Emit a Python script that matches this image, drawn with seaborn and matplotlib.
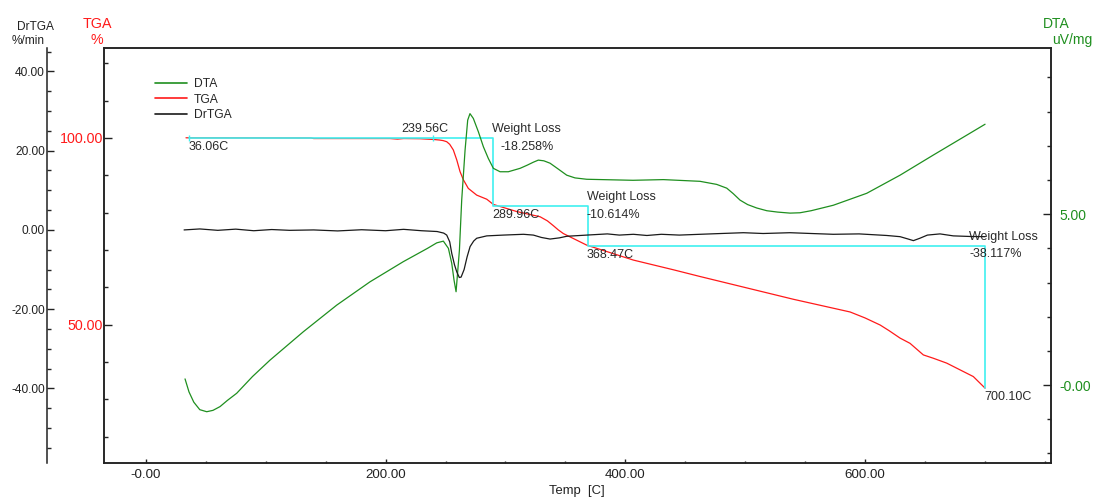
import numpy as np
import pandas as pd
import matplotlib
matplotlib.use("Agg")
import matplotlib.pyplot as plt
from matplotlib.ticker import FixedLocator, MultipleLocator, FixedFormatter
from matplotlib.lines import Line2D
import seaborn as sns

# DTA signal (uV/mg) vs temperature (C)
dta_temp = [32.7, 36.0, 40.0, 45.0, 50.8, 56.0, 61.9, 68.0, 75.8, 89.0,
            103.6, 131.4, 159.3, 187.0, 214.8, 235.0, 242.7, 248.2, 252.4, 255.2,
            257.1, 258.8, 261.6, 263.5, 266.3, 268.5, 270.4, 273.2, 277.4, 281.6,
            285.7, 289.9, 295.5, 302.4, 312.2, 318.0, 323.3, 327.4, 332.0, 337.2,
            344.0, 351.1, 358.0, 367.8, 406.4, 431.7, 462.3, 476.2, 484.6, 490.0,
            495.7, 502.0, 509.6, 518.0, 527.0, 537.4, 545.7, 555.0, 573.5, 601.4,
            629.2, 657.0, 684.8, 700.1]
dta_val = [0.18, -0.20, -0.50, -0.72, -0.78, -0.74, -0.63, -0.45, -0.24, 0.25,
           0.73, 1.56, 2.34, 3.02, 3.61, 4.00, 4.16, 4.21, 4.00, 3.56,
           3.07, 2.73, 3.95, 5.41, 6.87, 7.75, 7.94, 7.80, 7.41, 6.97,
           6.63, 6.34, 6.24, 6.24, 6.34, 6.43, 6.52, 6.58, 6.56, 6.49,
           6.32, 6.14, 6.06, 6.02, 5.99, 6.01, 5.96, 5.87, 5.76, 5.60,
           5.41, 5.28, 5.18, 5.10, 5.06, 5.03, 5.04, 5.10, 5.26, 5.61,
           6.14, 6.73, 7.31, 7.63]

# TGA mass (%) vs temperature (C)
tga_temp = [33.5, 137.8, 140.0, 203.7, 210.0, 215.0, 228.7, 240.0, 245.0, 248.0,
            251.0, 253.5, 256.5, 259.4, 262.1, 264.9, 269.0, 276.0, 284.4, 289.9,
            309.4, 328.9, 335.0, 340.0, 344.0, 348.3, 367.8, 406.7, 440.1, 462.3,
            540.2, 587.5, 600.0, 612.6, 620.0, 629.2, 637.5, 648.6, 657.0, 668.1,
            679.2, 690.3, 700.1]
tga_val = [100.05, 100.0, 99.85, 99.85, 99.7, 99.85, 99.8, 99.6, 99.45, 99.3,
           99.0, 98.3, 96.8, 94.1, 91.0, 88.8, 86.5, 84.7, 83.6, 82.2,
           80.3, 78.9, 77.8, 76.5, 75.4, 74.4, 71.3, 67.3, 64.7, 62.9,
           56.8, 53.4, 51.8, 49.9, 48.4, 46.4, 45.0, 41.9, 41.0, 39.7,
           37.9, 36.1, 33.0]

# DrTGA (%/min) vs temperature (C)
drtga_temp = [31.9, 45, 60, 75, 90, 105, 120, 140, 160, 180,
              200, 215, 230, 243, 248.5, 251.0, 253.5, 255.2, 257.5, 259.4,
              261.5, 263.0, 265.5, 268.0, 270.5, 273.5, 276.0, 284.4, 298.2, 315,
              323.3, 330, 337.2, 345, 351.1, 367.8, 385, 395, 406.7, 418,
              430, 445, 462.3, 480, 498.5, 515, 537.4, 555, 573.5, 595,
              618.1, 629.2, 636, 640.3, 645.7, 652, 662.5, 673.6, 687.6, 700.1]
drtga_val = [0.0, 0.25, -0.1, 0.2, -0.2, 0.1, -0.1, 0.0, -0.25, 0.05,
             -0.2, 0.15, -0.2, -0.4, -0.8, -1.3, -3.0, -5.9, -8.8, -10.6,
             -12.0, -11.9, -10.0, -6.8, -4.2, -2.8, -2.1, -1.5, -1.3, -1.1,
             -1.3, -1.9, -2.3, -2.0, -1.6, -1.3, -1.0, -1.3, -1.1, -1.4,
             -1.1, -1.3, -1.1, -0.9, -0.7, -0.9, -0.7, -0.9, -1.1, -1.0,
             -1.4, -1.7, -2.3, -2.7, -2.1, -1.3, -1.0, -1.5, -1.65, -1.7]

# weight loss analysis
step_temps = [36.06, 289.96, 368.47, 700.10]
onset_temp = 239.56
weight_losses = [-18.258, -10.614, -38.117]
start_mass = 100.0

x_ticks = [0, 200, 400, 600]
x_tick_labels = ["-0.00", "200.00", "400.00", "600.00"]
tga_ticks = [50, 100]
tga_tick_labels = ["50.00", "100.00"]
dta_ticks = [0, 5]
dta_tick_labels = ["-0.00", "5.00"]
dr_ticks = [-40, -20, 0, 20, 40]
dr_tick_labels = ["-40.00", "-20.00", "0.00", "20.00", "40.00"]

GREEN = "#1f8f1f"
RED = "#ff1a1a"
DARK = "#1a1a1a"
CYAN = "#3ff0f0"
TXT = "#2a2a2a"

sns.set_style("white")
plt.rcParams["font.family"] = ["Liberation Sans", "DejaVu Sans"]

W, H = 1094, 497
fig = plt.figure(figsize=(W / 100, H / 100), dpi=100)
ax = fig.add_axes([104 / W, 1 - 463 / H, 947 / W, 415 / H])
ax_dta = ax.twinx()
ax_dr = ax.twinx()
ax_dr.set_position(ax.get_position())
ax_dta.set_position(ax.get_position())

df_tga = pd.DataFrame({"temp": tga_temp, "val": tga_val})
df_dta = pd.DataFrame({"temp": dta_temp, "val": dta_val})
df_dr = pd.DataFrame({"temp": drtga_temp, "val": drtga_val})

sns.lineplot(data=df_tga, x="temp", y="val", ax=ax, color=RED, linewidth=0.9,
             estimator=None, sort=False, zorder=2)

# stepped weight-loss line
levels = [start_mass]
for wl in weight_losses:
    levels.append(levels[-1] + wl)
sx, sy = [step_temps[0]], [levels[0]]
for i in range(1, len(step_temps)):
    sx += [step_temps[i], step_temps[i]]
    sy += [levels[i - 1], levels[i]]
ax.plot(sx, sy, color=CYAN, linewidth=1.2, zorder=3)
ax.plot([step_temps[0], onset_temp], [levels[0], levels[0]], linestyle="none",
        marker="|", markersize=5, color=CYAN, zorder=3)

sns.lineplot(data=df_dta, x="temp", y="val", ax=ax_dta, color=GREEN, linewidth=0.9,
             estimator=None, sort=False)
sns.lineplot(data=df_dr, x="temp", y="val", ax=ax_dr, color=DARK, linewidth=0.9,
             estimator=None, sort=False)

ax.set_xlim(-34.9, 755.1)
ax.set_ylim(12.95, 124.1)
ax_dta.set_ylim(-2.28, 9.86)
ax_dr.set_ylim(-58.8, 45.9)

for a in (ax, ax_dta, ax_dr):
    a.set_xlabel("")
    a.set_ylabel("")
    a.grid(False)
    for s in a.spines.values():
        s.set_color("#222222")
        s.set_linewidth(1.1)

# x axis
ax.xaxis.set_major_locator(FixedLocator(x_ticks))
ax.xaxis.set_major_formatter(FixedFormatter(x_tick_labels))
ax.xaxis.set_minor_locator(MultipleLocator(50))
ax.tick_params(axis="x", which="major", direction="in", length=3, width=1,
               pad=4, labelsize=9.6, colors="#222222", bottom=True, top=False)
ax.tick_params(axis="x", which="minor", direction="in", length=1.8, width=1,
               bottom=True, top=False)

# TGA axis
ax.yaxis.set_major_locator(FixedLocator(tga_ticks))
ax.yaxis.set_major_formatter(FixedFormatter(tga_tick_labels))
ax.yaxis.set_minor_locator(MultipleLocator(10))
ax.tick_params(axis="y", which="major", direction="in", length=6, width=1,
               pad=0.5, labelsize=10.3, labelcolor=RED, color="#222222",
               left=True, right=False)
ax.tick_params(axis="y", which="minor", direction="in", length=3, width=1,
               left=True, right=False)

# DTA axis
ax_dta.yaxis.set_major_locator(FixedLocator(dta_ticks))
ax_dta.yaxis.set_major_formatter(FixedFormatter(dta_tick_labels))
ax_dta.yaxis.set_minor_locator(MultipleLocator(1))
ax_dta.tick_params(axis="y", which="major", direction="in", length=6, width=1,
                   pad=5.8, labelsize=10, labelcolor=GREEN, color="#222222")
ax_dta.tick_params(axis="y", which="minor", direction="in", length=3, width=1)

# DrTGA axis, offset to the left
ax_dr.yaxis.set_ticks_position("left")
ax_dr.yaxis.set_label_position("left")
ax_dr.spines["left"].set_position(("outward", 41.3))
ax_dr.spines["left"].set_visible(True)
for s in ("right", "top", "bottom"):
    ax_dr.spines[s].set_visible(False)
ax_dr.yaxis.set_major_locator(FixedLocator(dr_ticks))
ax_dr.yaxis.set_major_formatter(FixedFormatter(dr_tick_labels))
ax_dr.yaxis.set_minor_locator(MultipleLocator(5))
ax_dr.tick_params(axis="y", which="major", direction="in", length=5.3, width=1,
                  pad=1.2, labelsize=8.6, labelcolor="#222222", color="#222222")
ax_dr.tick_params(axis="y", which="minor", direction="in", length=3, width=1)

# annotations
def note(text, x, y, dx, dy):
    ax.annotate(text, xy=(x, y), xytext=(dx, dy), textcoords="offset points",
                ha="left", va="baseline", fontsize=9, color=TXT, zorder=5)

note(f"{step_temps[0]:.2f}C", step_temps[0], levels[0], -0.7, -8.6)
note(f"{onset_temp:.2f}C", onset_temp, levels[0], -23, 4.5)
for i in range(1, len(step_temps)):
    note(f"{step_temps[i]:.2f}C", step_temps[i], levels[i], -0.7, -8.5)
wl_dx = [(-0.7, 4.8), (-0.7, -0.7), (-11.3, -11.5)]
for i, wl in enumerate(weight_losses):
    x, y = step_temps[i + 1], levels[i]
    note("Weight Loss", x, y, wl_dx[i][0], 4.4)
    note(f"{wl:.3f}%", x, y, wl_dx[i][1], -8.3)

# axis headers
def ftext(s, px, py, ha, color, size):
    fig.text(px / W, 1 - py / H, s, ha=ha, va="baseline", color=color, fontsize=size)

ftext("DrTGA", 35.8, 29.5, "center", "#222222", 8.6)
ftext("%/min", 27.8, 44, "center", "#222222", 8.6)
ftext("TGA", 97.7, 28.5, "center", RED, 10.3)
ftext("%", 97.3, 44, "center", RED, 10.3)
ftext("DTA", 1056.7, 28.5, "center", GREEN, 10)
ftext("uV/mg", 1051.7, 44, "left", GREEN, 10)
ftext("Temp  [C]", 577, 494, "center", "#222222", 9.4)

handles = [Line2D([], [], color=GREEN, lw=1.2), Line2D([], [], color=RED, lw=1.2),
           Line2D([], [], color=DARK, lw=1.2)]
fig.legend(handles, ["DTA", "TGA", "DrTGA"], loc="upper left",
           bbox_to_anchor=(155 / W, 1 - 78 / H), frameon=False, borderpad=0,
           borderaxespad=0, handlelength=2.65, handletextpad=0.55,
           labelspacing=0.3, fontsize=8.7)

fig.savefig("out.png", dpi=100)
